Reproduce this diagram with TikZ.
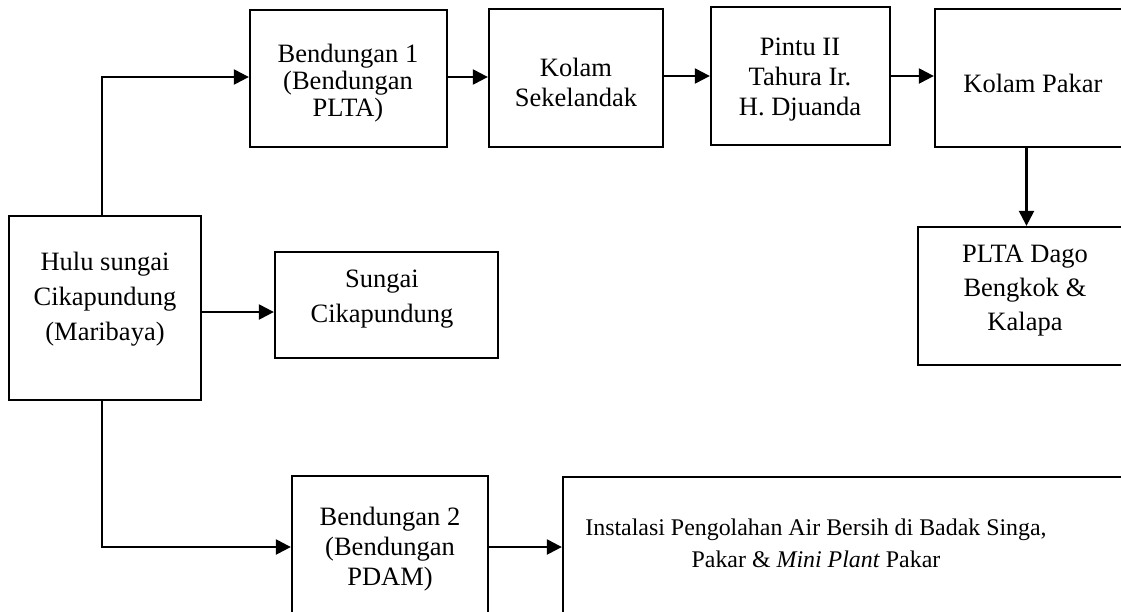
\documentclass[tikz,border=0pt]{standalone}
\usepackage{fontspec}
\setmainfont{Liberation Serif}
\usetikzlibrary{arrows.meta}
\tikzset{
  box/.style={draw=black, line width=2.3pt, rectangle, inner sep=0pt},
  txt/.style={align=center, inner sep=0pt, text=black},
  arr/.style={draw=black, line width=2.3pt, -{Triangle[length=15pt,width=15pt]}}
}
\newcommand{\fs}[1]{\fontsize{26.5}{#1}\selectfont}
\begin{document}
\begin{tikzpicture}[x=1pt,y=-1pt]
\useasboundingbox (0,0) rectangle (1121,611);
\fill[white] (0,0) rectangle (1121,611);
\clip (0,0) rectangle (1121,611);
% boxes
\node[box, minimum width=192pt, minimum height=184pt] (hulu) at (105,308) {};
\node[box, minimum width=197pt, minimum height=137pt] (b1) at (348.5,78.5) {};
\node[box, minimum width=174pt, minimum height=138pt] (ks) at (576,78) {};
\node[box, minimum width=179pt, minimum height=138pt] (pintu) at (800.5,76) {};
\node[box, minimum width=200pt, minimum height=138pt] (kp) at (1035,78) {};
\node[box, minimum width=217pt, minimum height=138pt] (plta) at (1026.5,296) {};
\node[box, minimum width=223pt, minimum height=106pt] (sungai) at (386.5,305) {};
\node[box, minimum width=196pt, minimum height=142pt] (b2) at (390,547) {};
\node[box, minimum width=577pt, minimum height=163pt] (ipal) at (851.5,558.5) {};
% texts
\node[txt, font=\fs{35}] (hulu-t) at (105,299) {Hulu sungai\\Cikapundung\\(Maribaya)};
\node[txt, font=\fs{27}] (b1-t) at (348,83) {Bendungan 1\\(Bendungan\\PLTA)};
\node[txt, font=\fs{30}] (ks-t) at (576,82) {Kolam\\Sekelandak};
\node[txt, font=\fs{30}] (pintu-t) at (800,80) {Pintu II\\Tahura Ir.\\H. Djuanda};
\node[txt, font=\fs{30}] (kp-t) at (1033,83) {Kolam Pakar};
\node[txt, font=\fs{34}] (plta-t) at (1025,291) {PLTA Dago\\Bengkok \&\\Kalapa};
\node[txt, font=\fs{35}] (sungai-t) at (382,299) {Sungai\\Cikapundung};
\node[txt, font=\fs{30}] (b2-t) at (390,549) {Bendungan 2\\(Bendungan\\PDAM)};
\node[txt, font=\fontsize{23.9}{32}\selectfont] (ipal-t) at (816,543) {Instalasi Pengolahan Air Bersih di Badak Singa,\\Pakar \& \textit{Mini Plant} Pakar};
% connectors
\draw[arr] ([xshift=-3pt]hulu.north) |- ([yshift=1.5pt]b1.west);
\draw[arr] ([yshift=1.5pt]b1.east) -- ([yshift=1.5pt]b1.east -| ks.west);
\draw[arr] ([yshift=2pt]ks.east) -- ([yshift=2pt]ks.east -| pintu.west);
\draw[arr] (pintu.east) -- (pintu.east -| kp.west);
\draw[arr] (plta.north |- kp.south) -- (plta.north);
\draw[arr] ([yshift=-4pt]hulu.east) -- ([yshift=-4pt]hulu.east -| sungai.west);
\draw[arr] ([xshift=-3pt]hulu.south) |- (b2.west);
\draw[arr] (b2.east) -- (b2.east -| ipal.west);
\end{tikzpicture}
\end{document}
